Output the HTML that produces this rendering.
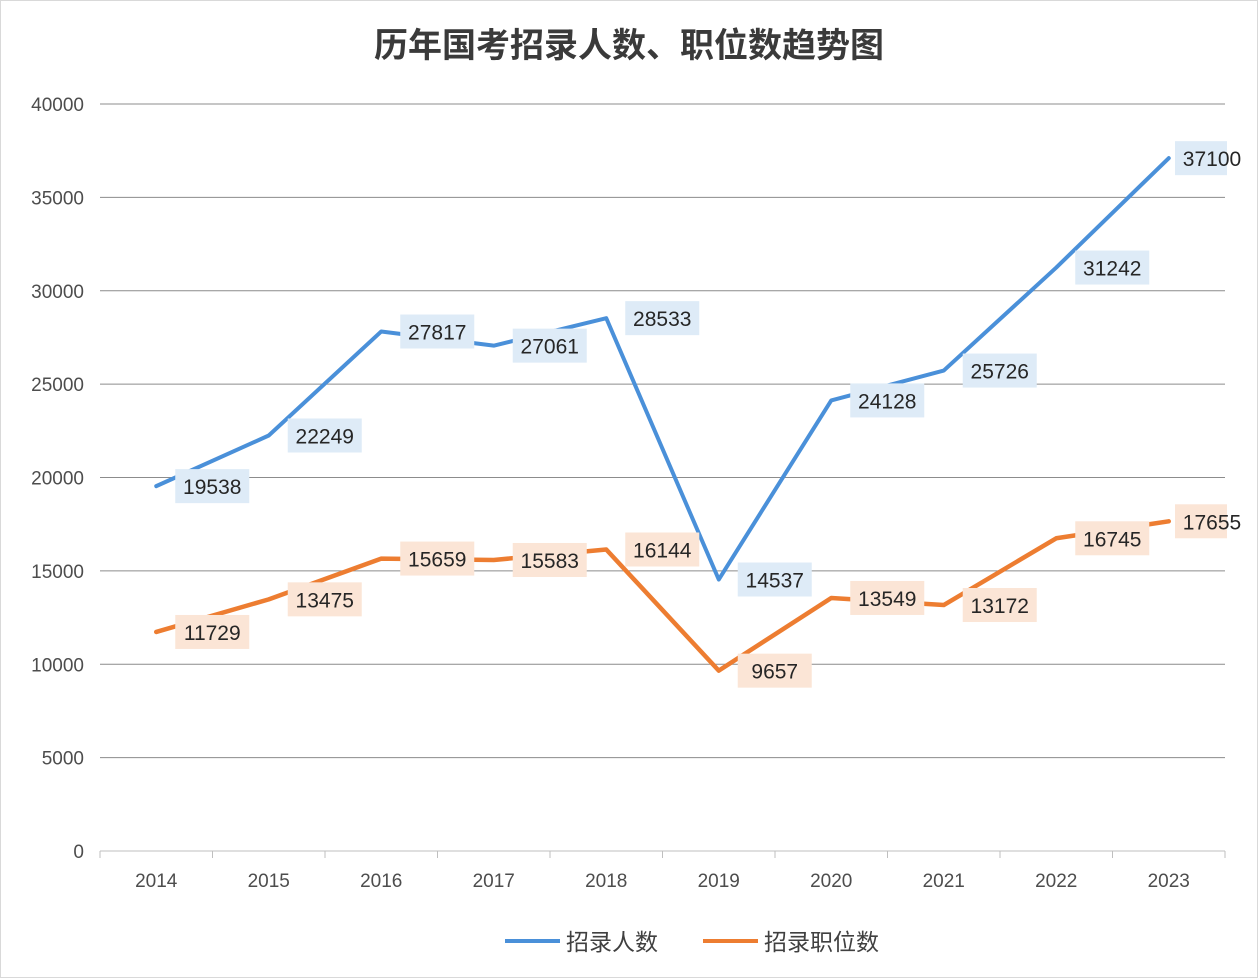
<!DOCTYPE html>
<html><head><meta charset="utf-8"><style>
html,body{margin:0;padding:0;background:#fff;}
svg{display:block;font-family:"Liberation Sans","Noto Sans CJK SC",sans-serif;}
</style></head><body>
<svg id="chart" width="1258" height="978" viewBox="0 0 1258 978" xmlns="http://www.w3.org/2000/svg">
<rect x="0.5" y="0.5" width="1257" height="977" fill="#fff" stroke="#d9d9d9"/>
<text x="629" y="57" text-anchor="middle" font-size="34" font-weight="bold" fill="#3a3a3a" font-family="'Noto Sans CJK SC',sans-serif">历年国考招录人数、职位数趋势图</text>
<g id="grid"></g><g id="axes"></g><g id="series"></g><g id="labels"></g>
<g>
<line x1="505" y1="941" x2="560" y2="941" stroke="#4a90d9" stroke-width="4"/>
<text x="566" y="950" font-size="23" fill="#404040">招录人数</text>
<line x1="703" y1="941" x2="758" y2="941" stroke="#ed7d31" stroke-width="4"/>
<text x="764" y="950" font-size="23" fill="#404040">招录职位数</text>
</g>
</svg>
<script>
const categories=["2014","2015","2016","2017","2018","2019","2020","2021","2022","2023"];
const recruits=[19538,22249,27817,27061,28533,14537,24128,25726,31242,37100];
const positions=[11729,13475,15659,15583,16144,9657,13549,13172,16745,17655];
const yTicks=[0,5000,10000,15000,20000,25000,30000,35000,40000];
const NS="http://www.w3.org/2000/svg";
const L=100,R=1225,T=104,B=851,YMAX=40000;
const band=(R-L)/categories.length;
const x=i=>L+band*(i+0.5);
const y=v=>B-(v/YMAX)*(B-T);
function mk(tag,attrs,parent){const e=document.createElementNS(NS,tag);for(const k in attrs)e.setAttribute(k,attrs[k]);parent.appendChild(e);return e;}
const grid=document.getElementById('grid'),axes=document.getElementById('axes'),ser=document.getElementById('series'),lab=document.getElementById('labels');
yTicks.forEach(t=>{
  const g=mk('line',{x1:L,x2:R,y1:y(t),y2:y(t),stroke:t===0?'#bfbfbf':'#8c8c8c','stroke-width':1},grid);
  
  
  const tx=mk('text',{x:84,y:y(t)+7,'text-anchor':'end','font-size':19,fill:'#4d4d4d'},axes);
  tx.textContent=t;
  
  
});
for(let i=0;i<=categories.length;i++){
  const tk=mk('line',{x1:L+band*i,x2:L+band*i,y1:B,y2:B+7,stroke:'#bfbfbf'},axes);
  
  
}
categories.forEach((c,i)=>{
  const tx=mk('text',{x:x(i),y:887,'text-anchor':'middle','font-size':19,fill:'#4d4d4d'},axes);
  tx.textContent=c;
  
  
});
function drawSeries(vals,color,width,bg,name){
  const pts=vals.map((v,i)=>x(i)+','+y(v)).join(' ');
  const pl=mk('polyline',{points:pts,fill:'none',stroke:color,'stroke-width':width,'stroke-linejoin':'round','stroke-linecap':'round'},ser);
  
  
  vals.forEach((v,i)=>{
    const cx=Math.min(x(i)+56,1212),cy=y(v);
    const r=mk('rect',{x:cx-37,y:cy-17,width:Math.min(74,R+2-(cx-37)),height:34,fill:bg},lab);
    
    
    const t=mk('text',{x:cx,y:cy+8,'text-anchor':'middle','font-size':21,fill:'#262626'},lab);
    t.textContent=v;
    
    
  });
}
drawSeries(recruits,'#4a90d9',4,'#deebf7','recruits');
drawSeries(positions,'#ed7d31',4.5,'#fbe5d6','positions');
</script>
</body></html>
